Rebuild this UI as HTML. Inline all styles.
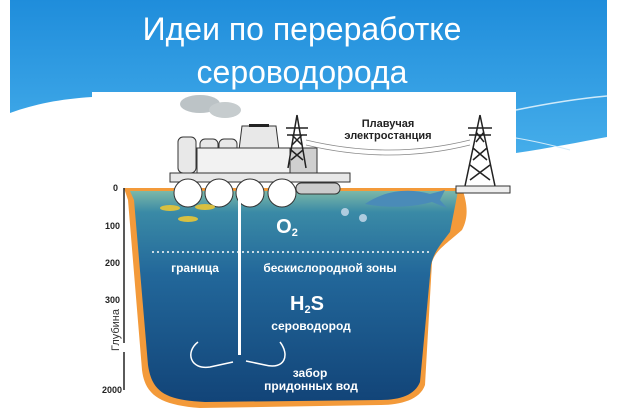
<!DOCTYPE html>
<html><head><meta charset="utf-8"><style>
body{margin:0;width:620px;height:410px;overflow:hidden;background:#fff;font-family:"Liberation Sans",sans-serif}
</style></head><body>
<svg width="620" height="410" viewBox="0 0 620 410" xmlns="http://www.w3.org/2000/svg">
<defs>
<linearGradient id="sky" x1="0" y1="0" x2="0" y2="1"><stop offset="0" stop-color="#1f8ddb"/><stop offset="1" stop-color="#45adea"/></linearGradient>
<linearGradient id="sea" x1="0" y1="0" x2="0" y2="1"><stop offset="0" stop-color="#7cb8a8"/><stop offset="0.1" stop-color="#3a8aa6"/><stop offset="0.4" stop-color="#22679a"/><stop offset="1" stop-color="#124478"/></linearGradient>
</defs>
<path d="M10,0 L607,0 L607,137 C580,142 550,148 516,153 L516,92 L92,92 L92,97 C60,99 35,104 10,113Z" fill="url(#sky)"/>
<path d="M516,110 C550,103 585,98 607,96" stroke="#cfeafa" stroke-width="1.5" fill="none"/>
<path d="M516,138 C540,142 555,146 570,150" stroke="#cfeafa" stroke-width="1" fill="none"/>
<rect x="92" y="92" width="424" height="318" fill="#fff"/>
<text x="302" y="40" font-size="32" fill="#fff" text-anchor="middle">Идеи по переработке</text>
<text x="302" y="83" font-size="32" fill="#fff" text-anchor="middle">сероводорода</text>
<!-- smoke -->
<ellipse cx="200" cy="104" rx="20" ry="9" fill="#bcc3c6"/><ellipse cx="225" cy="110" rx="16" ry="8" fill="#c6ccce"/>
<!-- basin -->
<path d="M124,188 L462,188 C466,200 470,215 462,230 C445,245 436,250 432,262 L425,385 C420,400 400,405 380,405 L200,408 C160,405 145,395 142,370 L128,200Z" fill="#f39a3a"/>
<path d="M130,191 L458,191 L450,232 C440,245 434,252 431,265 L420,382 C415,395 400,400 380,400 L205,402 C165,400 152,392 148,365 L134,200Z" fill="url(#sea)"/>
<!-- axis -->
<g stroke="#222" stroke-width="1.5"><line x1="124" y1="188" x2="124" y2="343"/><line x1="124" y1="352" x2="124" y2="390"/></g>
<g font-size="9" font-weight="bold" fill="#222" text-anchor="end">
<text x="118" y="191">0</text><text x="120" y="229">100</text><text x="120" y="266">200</text><text x="120" y="303">300</text><text x="122" y="393">2000</text></g>
<text transform="translate(119,330) rotate(-90)" font-size="11" fill="#333" text-anchor="middle">Глубина</text>
<!-- ship -->
<g stroke="#333" stroke-width="1" fill="#e8e8e8">
<rect x="178" y="137" width="18" height="36" rx="5"/><rect x="200" y="139" width="18" height="34" rx="5"/><rect x="219" y="139" width="18" height="34" rx="5"/>
<path d="M242,126 L276,126 L279,150 L239,150Z"/>
<rect x="197" y="148" width="120" height="25" fill="#f2f2f2"/><rect x="290" y="148" width="27" height="25" fill="#cfcfcf"/>
<rect x="170" y="173" width="180" height="9"/>
<circle cx="188" cy="193" r="14" fill="#fff"/><circle cx="219" cy="193" r="14" fill="#fff"/><circle cx="250" cy="193" r="14" fill="#fff"/><circle cx="282" cy="193" r="14" fill="#fff"/>
<rect x="296" y="183" width="44" height="11" rx="5" fill="#ccc"/></g>
<rect x="249" y="124" width="20" height="3" fill="#222"/>
<!-- towers -->
<g stroke="#222" stroke-width="1.5" fill="none">
<path d="M297,115 L288,168 M297,115 L306,168 M291,150 L303,160 M303,150 L291,160 M292,135 L302,145 M302,135 L292,145 M286,128 L308,128 M287,135 L307,135"/>
<path d="M480,115 L465,186 M480,115 L495,186 M470,165 L490,180 M490,165 L470,180 M473,148 L487,160 M487,148 L473,160 M476,132 L484,142 M484,132 L476,142 M468,128 L492,128 M469,135 L491,135"/>
<path d="M306,140 Q390,160 470,140 M306,145 Q390,165 470,145" stroke="#888" stroke-width="0.8"/>
</g>
<rect x="456" y="186" width="54" height="7" fill="#eee" stroke="#333"/>
<text x="388" y="127" font-size="11" font-weight="bold" fill="#222" text-anchor="middle">Плавучая</text>
<text x="388" y="139" font-size="11" font-weight="bold" fill="#222" text-anchor="middle">электростанция</text>
<!-- animals -->
<path d="M365,204 C385,190 410,188 430,194 L445,190 L440,200 L447,208 L432,202 C410,208 385,208 365,204Z" fill="#4a8bb8"/>
<g fill="#d8c040"><ellipse cx="170" cy="208" rx="10" ry="3"/><ellipse cx="205" cy="207" rx="10" ry="3"/><ellipse cx="188" cy="219" rx="10" ry="3"/></g>
<g fill="#cde" opacity="0.8"><circle cx="345" cy="212" r="4"/><circle cx="363" cy="218" r="4"/></g>
<!-- pipe -->
<rect x="238" y="195" width="3" height="160" fill="#fff"/>
<line x1="152" y1="252" x2="430" y2="252" stroke="#fff" stroke-width="1.5" stroke-dasharray="2,3"/>
<g fill="#fff" font-weight="bold" text-anchor="middle">
<text x="287" y="233" font-size="20">O<tspan font-size="11" dy="3">2</tspan></text>
<text x="195" y="272" font-size="12">граница</text>
<text x="330" y="272" font-size="12">бескислородной зоны</text>
<text x="307" y="310" font-size="20">H<tspan font-size="11" dy="3">2</tspan><tspan dy="-3">S</tspan></text>
<text x="311" y="330" font-size="12">сероводород</text>
<text x="310" y="377" font-size="12">забор</text>
<text x="311" y="390" font-size="12">придонных вод</text>
</g>
<g stroke="#fff" stroke-width="1.5" fill="none">
<path d="M198,342 C185,352 190,370 210,367 L233,362"/>
<path d="M280,342 C290,355 285,370 265,365 L246,361"/>
</g>
</svg>
</body></html>
